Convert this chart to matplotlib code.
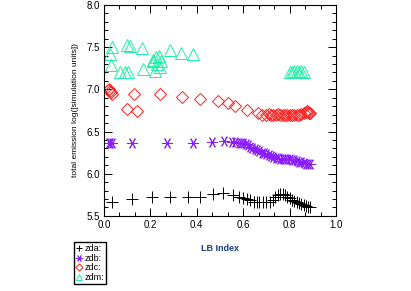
import matplotlib
matplotlib.use('Agg')
import matplotlib.pyplot as plt
from matplotlib.ticker import MultipleLocator

plt.rcParams['font.family'] = ['Liberation Sans', 'DejaVu Sans']

# zda (plus)
zda_x = [0.033, 0.122, 0.208, 0.284, 0.36, 0.414, 0.47, 0.514, 0.557, 0.58, 0.60, 0.615,
         0.63, 0.645, 0.658, 0.67, 0.687, 0.70, 0.716, 0.727, 0.737, 0.748, 0.759, 0.77,
         0.78, 0.79, 0.80, 0.81, 0.82, 0.83, 0.84, 0.85, 0.86, 0.87, 0.88, 0.89]
zda_y = [5.67, 5.70, 5.72, 5.72, 5.72, 5.73, 5.76, 5.77, 5.75, 5.73, 5.71, 5.70,
         5.69, 5.67, 5.66, 5.66, 5.66, 5.66, 5.67, 5.69, 5.72, 5.75, 5.76, 5.76,
         5.75, 5.73, 5.71, 5.69, 5.68, 5.67, 5.65, 5.64, 5.63, 5.62, 5.60, 5.60]

# zdb (asterisk)
zdb_x = [0.02, 0.026, 0.033, 0.119, 0.27, 0.385, 0.464, 0.517, 0.55, 0.565, 0.58, 0.59,
         0.60, 0.61, 0.62, 0.63, 0.64, 0.65, 0.66, 0.67, 0.68, 0.69, 0.70, 0.71, 0.72,
         0.73, 0.74, 0.75, 0.76, 0.77, 0.78, 0.79, 0.80, 0.81, 0.82, 0.83, 0.84, 0.85,
         0.86, 0.87, 0.88, 0.89]
zdb_y = [6.37, 6.36, 6.37, 6.37, 6.37, 6.37, 6.38, 6.39, 6.38, 6.38, 6.37, 6.37,
         6.36, 6.35, 6.34, 6.32, 6.31, 6.29, 6.28, 6.27, 6.25, 6.24, 6.23, 6.22, 6.21,
         6.20, 6.19, 6.19, 6.18, 6.18, 6.17, 6.17, 6.17, 6.16, 6.16, 6.15, 6.14, 6.14,
         6.13, 6.12, 6.11, 6.11]

# zdc (diamond)
zdc_x = [0.019, 0.022, 0.026, 0.03, 0.033, 0.10, 0.13, 0.143, 0.241, 0.338, 0.414, 0.49,
         0.533, 0.565, 0.615, 0.665, 0.68, 0.70, 0.71, 0.72, 0.73, 0.74, 0.75, 0.76,
         0.77, 0.78, 0.79, 0.80, 0.81, 0.82, 0.83, 0.84, 0.85, 0.86, 0.87, 0.875, 0.88,
         0.885, 0.89]
zdc_y = [6.99, 7.00, 6.98, 6.97, 6.95, 6.77, 6.95, 6.74, 6.94, 6.91, 6.89, 6.86,
         6.84, 6.80, 6.75, 6.72, 6.70, 6.70, 6.71, 6.70, 6.70, 6.70, 6.71, 6.70,
         6.70, 6.70, 6.70, 6.70, 6.70, 6.70, 6.70, 6.70, 6.71, 6.72, 6.73, 6.74, 6.73,
         6.72, 6.72]

# zdm (triangle)
zdm_x = [0.026, 0.03, 0.033, 0.069, 0.09, 0.098, 0.105, 0.112, 0.165, 0.167, 0.21, 0.213,
         0.22, 0.225, 0.23, 0.235, 0.24, 0.245, 0.284, 0.332, 0.382,
         0.80, 0.81, 0.82, 0.83, 0.84, 0.85, 0.86]
zdm_y = [7.42, 7.29, 7.50, 7.20, 7.20, 7.52, 7.20, 7.51, 7.49, 7.24, 7.33, 7.35,
         7.22, 7.38, 7.30, 7.40, 7.27, 7.34, 7.47, 7.43, 7.42,
         7.20, 7.21, 7.22, 7.22, 7.21, 7.22, 7.21]

fig = plt.figure(figsize=(4.11, 2.91), dpi=100)
ax = fig.add_axes([0.253, 0.258, 0.5645, 0.725])

ax.plot(zda_x, zda_y, ls='none', marker='+', ms=8, mew=0.7, color='black', label='zda:')
ax.plot(zdb_x, zdb_y, ls='none', marker=(6, 2, 90), ms=8, mew=0.7, color='#8A1EFF', label='zdb:')
ax.plot(zdc_x, zdc_y, ls='none', marker='D', ms=6, mew=0.7, mfc='none', color='#FF1E1E', label='zdc:')
ax.plot(zdm_x, zdm_y, ls='none', marker='^', ms=8, mew=0.7, mfc='none', color='#1EF0A5', label='zdm:')

ax.set_xlim(0, 1)
ax.set_ylim(5.5, 8.0)
ax.xaxis.set_major_locator(MultipleLocator(0.2))
ax.xaxis.set_minor_locator(MultipleLocator(0.2 / 3))
ax.yaxis.set_major_locator(MultipleLocator(0.5))
ax.yaxis.set_minor_locator(MultipleLocator(0.1))
ax.xaxis.set_major_formatter(plt.FormatStrFormatter('%.1f'))
ax.yaxis.set_major_formatter(plt.FormatStrFormatter('%.1f'))
ax.tick_params(which='both', direction='in', top=True, right=True, labelsize=7, width=0.7, pad=3)
ax.tick_params(which='major', length=6)
ax.tick_params(which='minor', length=3)
for s in ax.spines.values():
    s.set_linewidth(0.8)

ax.set_xlabel('LB Index', fontsize=6.5, fontweight='bold', color='#1C3C8C', labelpad=10)
ax.set_ylabel('total emission log([simulation units])', fontsize=6, labelpad=5)

fig.legend(loc='lower left', bbox_to_anchor=(0.18, 0.024), borderaxespad=0, fontsize=6.5,
           markerscale=0.6, handlelength=0.6, handletextpad=0.3, borderpad=0.25,
           labelspacing=0.05, frameon=True, fancybox=False, edgecolor='black', framealpha=1)

fig.savefig('out.png', dpi=100)
